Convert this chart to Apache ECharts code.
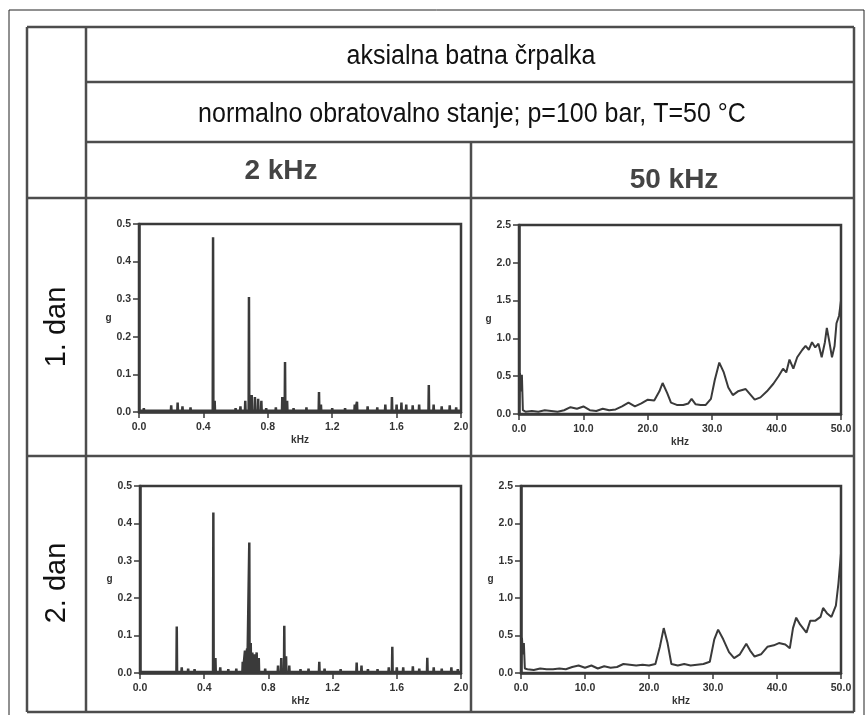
<!DOCTYPE html>
<html>
<head>
<meta charset="utf-8">
<script src="https://cdn.jsdelivr.net/npm/echarts@6/dist/echarts.min.js"></script>
<style>
  html, body { margin: 0; padding: 0; background: #fff; }
  #main { width: 868px; height: 715px; }
</style>
</head>
<body>
<div id="main"></div>
<script>
// Vibration spectra of an axial piston pump, two days, two frequency ranges.
const title = 'aksialna batna črpalka';
const subtitle = 'normalno obratovalno stanje; p=100 bar, T=50 °C';
const columnLabels = ['2 kHz', '50 kHz'];
const rowLabels = ['1. dan', '2. dan'];
const ampName = 'g';
const freqName = 'kHz';

// 0–2 kHz range: discrete lines [frequency kHz, amplitude g]
const lines2kDay1 = [
  [0.03,0.010],[0.08,0.008],[0.20,0.018],[0.24,0.025],[0.27,0.015],[0.32,0.012],
  [0.46,0.465],[0.47,0.030],[0.55,0.008],[0.60,0.010],[0.63,0.015],[0.66,0.030],
  [0.683,0.306],[0.70,0.045],[0.72,0.040],[0.74,0.035],[0.76,0.030],[0.79,0.010],
  [0.85,0.012],[0.89,0.040],[0.907,0.133],[0.92,0.030],[0.96,0.010],[1.04,0.012],
  [1.118,0.053],[1.13,0.020],[1.20,0.010],[1.28,0.010],[1.34,0.020],[1.354,0.027],
  [1.42,0.015],[1.48,0.012],[1.53,0.020],[1.571,0.040],[1.60,0.020],[1.63,0.025],
  [1.66,0.020],[1.70,0.018],[1.74,0.020],[1.80,0.072],[1.83,0.020],[1.88,0.015],
  [1.93,0.018],[1.97,0.012]
];
const lines2kDay2 = [
  [0.05,0.008],[0.12,0.006],[0.229,0.124],[0.26,0.015],[0.30,0.012],[0.34,0.010],
  [0.457,0.429],[0.47,0.040],[0.50,0.015],[0.55,0.010],[0.60,0.012],[0.64,0.030],
  [0.654,0.060],[0.667,0.065],[0.681,0.349],[0.69,0.080],[0.70,0.055],[0.715,0.050],
  [0.727,0.055],[0.74,0.040],[0.78,0.012],[0.86,0.020],[0.88,0.040],[0.899,0.126],
  [0.91,0.045],[0.93,0.020],[1.00,0.010],[1.05,0.012],[1.117,0.030],[1.15,0.012],
  [1.25,0.010],[1.35,0.028],[1.38,0.020],[1.42,0.010],[1.48,0.010],[1.55,0.015],
  [1.572,0.070],[1.60,0.015],[1.64,0.015],[1.70,0.018],[1.74,0.012],[1.79,0.041],
  [1.83,0.015],[1.88,0.012],[1.94,0.015],[1.98,0.010]
];

// 0–50 kHz range: continuous spectrum [frequency kHz, amplitude g]
const spec50kDay1 = [
  [0,0.03],[0.15,0.54],[0.3,0.30],[0.45,0.52],[0.6,0.05],[1,0.03],[2,0.04],[3,0.03],
  [4,0.05],[5,0.04],[6,0.03],[7,0.05],[8,0.09],[9,0.07],[10,0.10],[11,0.05],[12,0.04],
  [13,0.07],[14,0.05],[15,0.06],[16,0.10],[17,0.15],[18,0.10],[19,0.14],[20,0.19],
  [21,0.18],[21.8,0.30],[22.3,0.41],[23,0.28],[23.6,0.15],[24.5,0.12],[25.5,0.12],
  [26.3,0.14],[26.8,0.20],[27.4,0.13],[28.2,0.12],[29,0.12],[29.8,0.20],[30.4,0.45],
  [31.1,0.68],[31.8,0.55],[32.5,0.35],[33.2,0.25],[34,0.30],[35.2,0.33],[36,0.25],
  [36.6,0.19],[37.5,0.22],[38.5,0.30],[39.5,0.40],[40.3,0.50],[41,0.60],[41.5,0.55],
  [42,0.72],[42.6,0.60],[43.2,0.75],[44,0.85],[44.5,0.90],[45,0.85],[45.5,0.95],
  [46,0.88],[46.5,0.93],[47,0.75],[47.5,0.95],[47.8,1.14],[48.2,0.95],[48.6,0.75],
  [49,0.90],[49.3,1.20],[49.7,1.30],[50,1.50]
];
const spec50kDay2 = [
  [0,0.05],[0.15,0.47],[0.3,0.25],[0.45,0.40],[0.6,0.06],[1,0.05],[2,0.04],[3,0.06],
  [4,0.05],[5,0.05],[6,0.06],[7,0.05],[8,0.08],[9,0.10],[10,0.07],[11,0.10],[12,0.06],
  [13,0.09],[14,0.07],[15,0.08],[16,0.12],[17,0.11],[18,0.10],[19,0.11],[20,0.10],
  [21,0.12],[21.7,0.35],[22.3,0.60],[22.9,0.40],[23.5,0.12],[24.5,0.10],[25.5,0.12],
  [26.5,0.10],[27.5,0.11],[28.5,0.12],[29.5,0.15],[30.2,0.45],[30.8,0.58],[31.6,0.45],
  [32.5,0.28],[33.3,0.20],[34.2,0.25],[35.2,0.39],[35.8,0.30],[36.5,0.22],[37.5,0.25],
  [38.5,0.35],[39.5,0.37],[40.3,0.40],[41.3,0.38],[42,0.33],[42.5,0.60],[43,0.74],
  [43.6,0.65],[44.6,0.54],[45.2,0.70],[46,0.70],[46.8,0.75],[47.2,0.87],[47.8,0.80],
  [48.5,0.75],[49.2,0.90],[49.6,1.20],[50,1.60]
];

// Each discrete line becomes a narrow spike rising from the noise floor.
function spikes(lines) {
  const out = [[0, 0.003]];
  lines.forEach(([f, a]) => {
    out.push([f - 0.002, 0.003], [f, a], [f + 0.002, 0.003]);
  });
  out.push([2.0, 0.003]);
  return out;
}

const ink = '#3a3a3a';
const rule = '#4d4d4d';

const grids = [
  { left: 139, top: 224, width: 322, height: 188, show: true, borderColor: ink, borderWidth: 2.5 },
  { left: 519, top: 225, width: 322, height: 189, show: true, borderColor: ink, borderWidth: 2.5 },
  { left: 140, top: 486, width: 321, height: 187, show: true, borderColor: ink, borderWidth: 2.5 },
  { left: 521, top: 486, width: 320, height: 187, show: true, borderColor: ink, borderWidth: 2.5 }
];

const tickFont = { color: '#333', fontFamily: '"Liberation Sans", Arial, sans-serif', fontWeight: 'bold', fontSize: 10.5 };

function xAxis(gridIndex, max, interval) {
  return {
    type: 'value', gridIndex, min: 0, max, interval,
    name: freqName, nameLocation: 'middle', nameGap: 23,
    nameTextStyle: Object.assign({}, tickFont, { fontSize: 10 }),
    axisLine: { show: true, lineStyle: { color: ink, width: 2.5 } },
    axisTick: { show: true, inside: false, length: 6, lineStyle: { color: ink, width: 1.5 } },
    axisLabel: Object.assign({ margin: 10, formatter: v => v.toFixed(1) }, tickFont),
    splitLine: { show: false }
  };
}
function yAxis(gridIndex, max, interval) {
  return {
    type: 'value', gridIndex, min: 0, max, interval,
    name: ampName, nameLocation: 'middle', nameRotate: 0, nameGap: 25,
    nameTextStyle: Object.assign({}, tickFont, { fontSize: 10 }),
    axisLine: { show: true, lineStyle: { color: ink, width: 2.5 } },
    axisTick: { show: true, inside: false, length: 6, lineStyle: { color: ink, width: 1.5 } },
    axisLabel: Object.assign({ margin: 8, formatter: v => v.toFixed(1) }, tickFont),
    splitLine: { show: false }
  };
}

function hLine(x1, x2, y, w) {
  return { type: 'line', shape: { x1, y1: y, x2, y2: y }, style: { stroke: rule, lineWidth: w || 2.5 }, silent: true };
}
function vLine(x, y1, y2, w) {
  return { type: 'line', shape: { x1: x, y1, x2: x, y2 }, style: { stroke: rule, lineWidth: w || 2.5 }, silent: true };
}
function label(text, x, y, opts) {
  opts = opts || {};
  return {
    type: 'text', x, y, rotation: opts.rotation || 0,
    scaleX: opts.scaleX || 1, scaleY: opts.scaleY || 1, silent: true,
    style: {
      text, fill: opts.fill || '#111',
      font: opts.font || '25px "Liberation Sans", Arial, sans-serif',
      textAlign: 'center', textVerticalAlign: 'middle'
    }
  };
}

const L = 27, D = 86, C = 471, R = 854, T = 27, B = 712;
const headFont = 'bold 28px "Liberation Sans", Arial, sans-serif';

const graphic = [
  // outer page frame
  { type: 'rect', shape: { x: 9, y: 10, width: 855, height: 712 }, style: { fill: 'none', stroke: '#222', lineWidth: 1 }, silent: true },
  // table rules
  hLine(L, R, T), hLine(D, R, 82), hLine(D, R, 142), hLine(L, R, 198),
  hLine(L, R, 456), hLine(L, R, B),
  vLine(L, T, B), vLine(D, T, B), vLine(R, T, B), vLine(C, 142, B),
  // headers
  label(title, 471, 56, { scaleY: 1.1 }),
  label(subtitle, 472, 114, { scaleY: 1.1 }),
  label(columnLabels[0], 281, 171, { fill: '#444', font: headFont }),
  label(columnLabels[1], 674, 180, { fill: '#444', font: headFont }),
  label(rowLabels[0], 57, 327, { rotation: Math.PI / 2, font: '29px "Liberation Sans", Arial, sans-serif' }),
  label(rowLabels[1], 57, 583, { rotation: Math.PI / 2, font: '29px "Liberation Sans", Arial, sans-serif' })
];

const lineStyle2k = { color: ink, width: 2.5 };
const lineStyle50k = { color: ink, width: 2 };

const option = {
  animation: false,
  backgroundColor: '#fff',
  grid: grids,
  xAxis: [xAxis(0, 2, 0.4), xAxis(1, 50, 10), xAxis(2, 2, 0.4), xAxis(3, 50, 10)],
  yAxis: [yAxis(0, 0.5, 0.1), yAxis(1, 2.5, 0.5), yAxis(2, 0.5, 0.1), yAxis(3, 2.5, 0.5)],
  series: [
    { type: 'line', xAxisIndex: 0, yAxisIndex: 0, data: spikes(lines2kDay1), showSymbol: false, lineStyle: lineStyle2k, z: 3 },
    { type: 'line', xAxisIndex: 1, yAxisIndex: 1, data: spec50kDay1, showSymbol: false, lineStyle: lineStyle50k, z: 3 },
    { type: 'line', xAxisIndex: 2, yAxisIndex: 2, data: spikes(lines2kDay2), showSymbol: false, lineStyle: lineStyle2k, z: 3 },
    { type: 'line', xAxisIndex: 3, yAxisIndex: 3, data: spec50kDay2, showSymbol: false, lineStyle: lineStyle50k, z: 3 }
  ],
  graphic
};

const chart = echarts.init(document.getElementById('main'));
chart.setOption(option);
</script>
</body>
</html>
